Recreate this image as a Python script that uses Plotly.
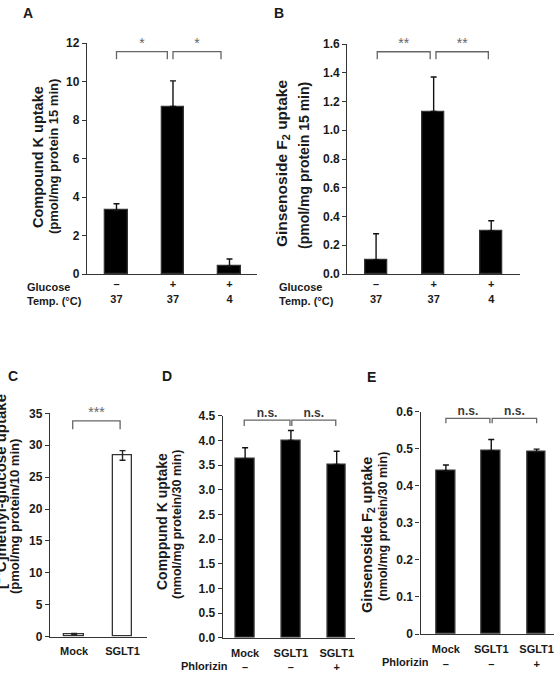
import plotly.graph_objects as go

W, H = 554, 686

# ---------------- data ----------------
a_glucose = ["–", "+", "+"]
a_temp = ["37", "37", "4"]
a_vals = [3.3, 8.7, 0.4]
a_err = [0.35, 1.33, 0.38]

b_glucose = ["–", "+", "+"]
b_temp = ["37", "37", "4"]
b_vals = [0.10, 1.13, 0.30]
b_err = [0.18, 0.24, 0.07]

c_cats = ["Mock", "SGLT1"]
c_vals = [0.4, 28.4]
c_err = [0.1, 0.75]

d_cats = ["Mock", "SGLT1", "SGLT1"]
d_phl = ["–", "–", "+"]
d_vals = [3.62, 4.0, 3.51]
d_err = [0.23, 0.2, 0.27]

e_cats = ["Mock", "SGLT1", "SGLT1"]
e_phl = ["–", "–", "+"]
e_vals = [0.44, 0.495, 0.491]
e_err = [0.016, 0.03, 0.008]

# significance marks: (x0, x1, label)
a_sig = [(0, 0.9, "*"), (1.0, 1.85, "*")]
b_sig = [(0.02, 0.94, "**"), (1.04, 1.95, "**")]
c_sig = [(-0.03, 0.95, "***")]
d_sig = [(-0.02, 0.98, "n.s."), (1.02, 1.98, "n.s.")]
e_sig = [(0.0, 0.97, "n.s."), (1.02, 2.0, "n.s.")]

FONT = "Liberation Sans, Arial, sans-serif"
TXT = "#1a1a1a"
GRAY = "#666666"


def px_x(p):
    return p / W


def px_y(p):
    return 1 - p / H


fig = go.Figure()

panels = [
    dict(id="", vals=a_vals, err=a_err, sym=False, fill="black",
         ticktext=[g + "<br>" + t for g, t in zip(a_glucose, a_temp)], standoff=0,
         xd=(87, 257), yd=(43, 274), xr=(-0.522, 2.487), yr=(0, 12), dtick=2, fmt="",
         width=0.4, sig=a_sig, br=(11.15, 11.55)),
    dict(id="2", vals=b_vals, err=b_err, sym=False, fill="black",
         ticktext=[g + "<br>" + t for g, t in zip(b_glucose, b_temp)], standoff=0,
         xd=(347.3, 520), yd=(44, 274), xr=(-0.5, 2.5), yr=(0, 1.6), dtick=0.2, fmt=".1f",
         width=0.38, sig=b_sig, br=(1.494, 1.546)),
    dict(id="3", vals=c_vals, err=c_err, sym=True, fill="white",
         ticktext=c_cats, standoff=4,
         xd=(50, 146.7), yd=(413.3, 636.7), xr=(-0.5, 1.5), yr=(0, 35), dtick=5, fmt="",
         width=0.41, sig=c_sig, br=(32.5, 33.8)),
    dict(id="4", vals=d_vals, err=d_err, sym=False, fill="black",
         ticktext=[c + "<br>" + p for c, p in zip(d_cats, d_phl)], standoff=5,
         xd=(222.7, 355), yd=(415.7, 637.7), xr=(-0.49, 2.40), yr=(0, 4.5), dtick=0.5, fmt=".1f",
         width=0.41, sig=d_sig, br=(4.29, 4.41)),
    dict(id="5", vals=e_vals, err=e_err, sym=False, fill="black",
         ticktext=[c + "<br>" + p for c, p in zip(e_cats, e_phl)], standoff=5,
         xd=(420.5, 554), yd=(411.7, 634), xr=(-0.56, 2.383), yr=(0, 0.6), dtick=0.1, fmt="",
         width=0.41, sig=e_sig, br=(0.569, 0.582)),
]

layout_axes = {}
for p in panels:
    n = len(p["vals"])
    xs = list(range(n))
    xa, ya = "x" + p["id"], "y" + p["id"]
    if p["sym"]:
        ey = dict(type="data", array=p["err"], symmetric=True, color="#222", thickness=1.4, width=3)
    else:
        ey = dict(type="data", array=p["err"], arrayminus=[0] * n, symmetric=False,
                  color="#111", thickness=1.4, width=3)
    fig.add_trace(go.Bar(x=xs, y=p["vals"], width=p["width"], xaxis=xa, yaxis=ya,
                         marker=dict(color=p["fill"], line=dict(color="#333", width=1.3)),
                         error_y=ey, showlegend=False, hoverinfo="skip"))
    lo, hi = p["br"]
    for x0, x1, lab in p["sig"]:
        fig.add_trace(go.Scatter(x=[x0, x0, x1, x1], y=[lo, hi, hi, lo], mode="lines",
                                 line=dict(color=GRAY, width=1.3), xaxis=xa, yaxis=ya,
                                 cliponaxis=False, showlegend=False, hoverinfo="skip"))
        is_ns = lab == "n.s."
        fig.add_trace(go.Scatter(x=[(x0 + x1) / 2], y=[hi], mode="text", text=[lab],
                                 textposition="top center",
                                 textfont=dict(family=FONT, size=12 if is_ns else 14,
                                               color="#3a3a3a" if is_ns else GRAY,
                                               weight="bold" if is_ns else "normal"),
                                 xaxis=xa, yaxis=ya, cliponaxis=False,
                                 showlegend=False, hoverinfo="skip"))
    key = "" if p["id"] == "" else p["id"]
    layout_axes["xaxis" + key] = dict(
        domain=[px_x(p["xd"][0]), px_x(p["xd"][1])], range=list(p["xr"]), anchor=ya,
        tickvals=xs, ticktext=p["ticktext"], ticks="", showline=True, linecolor="#333",
        linewidth=1.3, showgrid=False, zeroline=False, ticklabelstandoff=p["standoff"],
        automargin=False,
        tickfont=dict(family=FONT, size=11, color=TXT, weight="bold"))
    layout_axes["yaxis" + key] = dict(
        domain=[px_y(p["yd"][1]), px_y(p["yd"][0])], range=list(p["yr"]), anchor=xa,
        dtick=p["dtick"], tick0=0, tickformat=p["fmt"], ticks="outside", ticklen=4,
        tickwidth=1.2, tickcolor="#333", showline=True, linecolor="#333", linewidth=1.3,
        showgrid=False, zeroline=False, automargin=False,
        tickfont=dict(family=FONT, size=12, color=TXT, weight="bold"))

ann = []


def add_text(text, x, y, size=11, xanchor="center", angle=0, bold=True, color=TXT):
    ann.append(dict(text=text, x=px_x(x), y=px_y(y), xref="paper", yref="paper",
                    xanchor=xanchor, yanchor="middle", showarrow=False, textangle=angle,
                    font=dict(family=FONT, size=size, color=color,
                              weight="bold" if bold else "normal")))


# y-axis titles, one annotation per line
add_text("Compound K uptake", 38, 157, size=14.5, angle=-90)
add_text("(pmol/mg protein 15 min)", 54, 157, size=13, angle=-90)
add_text("Ginsenoside F<sub>2</sub> uptake", 283, 164, size=15.5, angle=-90)
add_text("(pmol/mg protein 15 min)", 304, 166, size=14, angle=-90)
add_text("[<sup>14</sup>C]methyl-glucose uptake", -1, 492, size=15, angle=-90)
add_text("(pmol/mg protein/10 min)", 14, 517, size=13, angle=-90)
add_text("Comppund K uptake", 162, 522, size=14, angle=-90)
add_text("(nmol/mg protein/30 min)", 177, 525, size=12.5, angle=-90)
add_text("Ginsenoside F<sub>2</sub> uptake", 368, 535, size=14.5, angle=-90)
add_text("(nmol/mg protein/30 min)", 383, 527, size=12.5, angle=-90)

# row labels
add_text("Glucose", 25, 287, xanchor="left")
add_text("Temp. (°C)", 25, 301, xanchor="left")
add_text("Glucose", 277, 287, xanchor="left")
add_text("Temp. (°C)", 277, 301, xanchor="left")
add_text("Phlorizin", 179, 666, xanchor="left")
add_text("Phlorizin", 380, 662, xanchor="left")

# panel letters
add_text("A", 28, 13, size=14)
add_text("B", 279, 13, size=14)
add_text("C", 12.5, 376, size=14)
add_text("D", 167, 376, size=14)
add_text("E", 371, 377, size=14)

fig.update_layout(width=W, height=H, margin=dict(l=0, r=0, t=0, b=0, autoexpand=False),
                  paper_bgcolor="white", plot_bgcolor="white", bargap=0,
                  annotations=ann, **layout_axes)

fig.write_html("out.html")
